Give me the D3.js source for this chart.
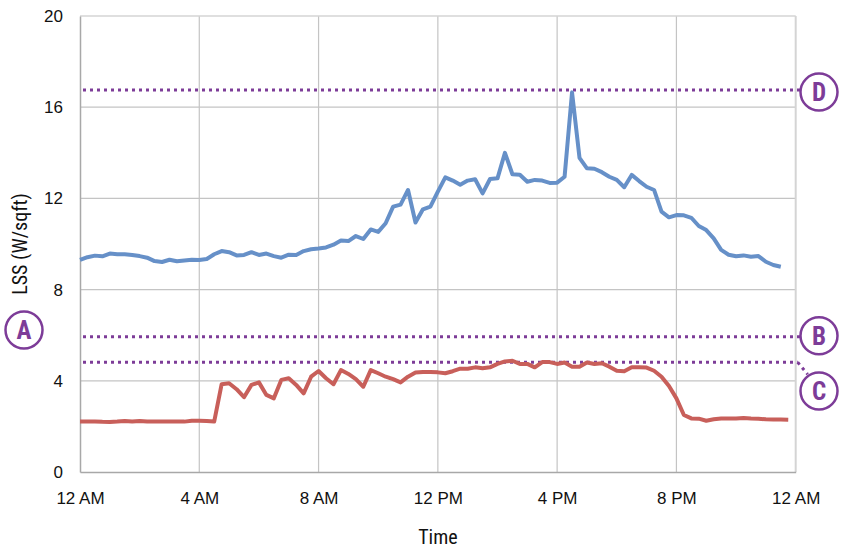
<!DOCTYPE html>
<html><head><meta charset="utf-8">
<script src="https://cdn.jsdelivr.net/npm/d3@7"></script>
<style>
body{margin:0;background:#fff;}
svg{display:block;font-family:"Liberation Sans Narrow","Roboto Condensed","Arial Narrow",Roboto,sans-serif;}
</style></head><body>
<svg id="c" width="841" height="550"></svg>
<script>
// time in hours (15-minute steps)
const stepHours = 0.25;
const blueValues = [9.30,9.42,9.49,9.46,9.58,9.55,9.55,9.52,9.47,9.40,9.25,9.21,9.31,9.24,9.28,9.31,
9.30,9.34,9.55,9.69,9.64,9.50,9.52,9.64,9.52,9.58,9.47,9.40,9.53,9.52,9.69,9.77,
9.80,9.85,9.97,10.15,10.13,10.35,10.22,10.64,10.53,10.91,11.64,11.73,12.37,10.94,11.52,11.64,
12.30,12.92,12.78,12.60,12.78,12.84,12.22,12.85,12.88,14.00,13.06,13.04,12.73,12.81,12.78,12.68,
12.69,12.95,16.65,13.78,13.32,13.30,13.15,12.95,12.81,12.49,13.03,12.76,12.51,12.37,11.42,11.17,
11.27,11.26,11.15,10.79,10.61,10.25,9.74,9.53,9.46,9.50,9.44,9.47,9.22,9.08,9.00];
const redValues = [2.21,2.21,2.22,2.20,2.19,2.21,2.24,2.21,2.24,2.21,2.22,2.22,2.22,2.22,2.21,2.25,
2.25,2.24,2.21,3.85,3.89,3.63,3.28,3.82,3.93,3.38,3.23,4.04,4.11,3.82,3.45,4.18,
4.43,4.11,3.85,4.47,4.30,4.07,3.74,4.47,4.33,4.18,4.07,3.93,4.18,4.36,4.39,4.39,
4.37,4.33,4.42,4.53,4.53,4.59,4.55,4.59,4.74,4.85,4.88,4.74,4.74,4.59,4.82,4.82,
4.74,4.80,4.62,4.62,4.80,4.74,4.77,4.62,4.44,4.42,4.59,4.59,4.58,4.44,4.18,3.77,
3.23,2.50,2.35,2.34,2.25,2.31,2.35,2.35,2.35,2.37,2.35,2.34,2.31,2.30,2.30,2.29];
const xTickHours = [0,4,8,12,16,20,24];
const xTickLabels = ["12 AM","4 AM","8 AM","12 PM","4 PM","8 PM","12 AM"];
const yTicks = [0,4,8,12,16,20];
const refNames = ["D","B","C"];
const refValues = [16.75,5.93,4.81];
const yLabel = "LSS (W/sqft)";
const xLabel = "Time";
const sideLabel = "A";

const svg = d3.select("#c");
const L=80, R=795.7, T=16, B=472;
const x = d3.scaleLinear().domain([0,24]).range([L,R]);
const y = d3.scaleLinear().domain([0,20]).range([B,T]);
const purple = "#7d3c98";

// grid
svg.append("g").selectAll("line").data(yTicks.slice(1,-1)).join("line")
  .attr("x1",L).attr("x2",R).attr("y1",d=>y(d)).attr("y2",d=>y(d))
  .attr("stroke","#c4c4c4").attr("stroke-width",1.2);
svg.append("g").selectAll("line").data(xTickHours.slice(1,-1)).join("line")
  .attr("y1",T).attr("y2",B).attr("x1",d=>x(d)).attr("x2",d=>x(d))
  .attr("stroke","#c4c4c4").attr("stroke-width",1.2);
// frame
svg.append("line").attr("x1",L).attr("x2",R).attr("y1",T).attr("y2",T).attr("stroke","#d4d4d4").attr("stroke-width",1.5);
svg.append("line").attr("x1",R).attr("x2",R).attr("y1",T).attr("y2",B).attr("stroke","#d4d4d4").attr("stroke-width",2);

// axes
const yAxis = d3.axisLeft(y).tickValues(yTicks).tickSize(0).tickPadding(17);
const gy = svg.append("g").attr("transform",`translate(${L},0)`).call(yAxis);
gy.select(".domain").attr("stroke","#a8a8a8").attr("stroke-width",1.5);
gy.selectAll("text").attr("font-size",17).attr("fill","#111").attr("font-family","inherit");
const xAxis = d3.axisBottom(x).tickValues(xTickHours).tickFormat((d,i)=>xTickLabels[i]).tickSize(0).tickPadding(20);
const gx = svg.append("g").attr("transform",`translate(0,${B})`).call(xAxis);
gx.select(".domain").attr("stroke","#a8a8a8").attr("stroke-width",1.5);
gx.selectAll("text").attr("font-size",17).attr("fill","#111").attr("font-family","inherit");

// axis titles
svg.append("text").attr("transform",`translate(27,244) rotate(-90)`).attr("text-anchor","middle")
  .attr("font-size",20).attr("fill","#111").text(yLabel);
svg.append("text").attr("x",(L+R)/2).attr("y",544).attr("text-anchor","middle")
  .attr("font-size",20).attr("fill","#111").text(xLabel);

// reference dotted lines
svg.append("g").selectAll("line").data(refValues).join("line")
  .attr("x1",L+3).attr("x2",(d,i)=>i===2?R+2:800).attr("y1",d=>y(d)).attr("y2",d=>y(d))
  .attr("stroke",purple).attr("stroke-width",3).attr("stroke-dasharray","3,4");
// C connector
svg.append("line").attr("x1",R+2).attr("y1",y(refValues[2])).attr("x2",R+12).attr("y2",y(refValues[2])+12)
  .attr("stroke",purple).attr("stroke-width",3).attr("stroke-dasharray","3,4");

// lines
const line = d3.line().x((d,i)=>x(i*stepHours)).y(d=>y(d));
svg.append("path").datum(redValues).attr("d",line).attr("fill","none")
  .attr("stroke","#c85f5a").attr("stroke-width",4).attr("stroke-linejoin","round");
svg.append("path").datum(blueValues).attr("d",line).attr("fill","none")
  .attr("stroke","#6690c8").attr("stroke-width",4).attr("stroke-linejoin","round");

// circled labels
const badges = [
  {t:refNames[0], cx:819, cy:y(refValues[0])+2},
  {t:refNames[1], cx:819, cy:y(refValues[1])-1},
  {t:refNames[2], cx:819, cy:391},
  {t:sideLabel, cx:24, cy:330}
];
const bg = svg.append("g").selectAll("g").data(badges).join("g")
  .attr("transform",d=>`translate(${d.cx},${d.cy})`);
bg.append("circle").attr("r",18.5).attr("fill","#fff").attr("stroke",purple).attr("stroke-width",2.5);
bg.append("text").attr("text-anchor","middle").attr("dy","0.36em").attr("font-size",25)
  .attr("font-weight","bold").attr("fill",purple).text(d=>d.t);
</script></body></html>
